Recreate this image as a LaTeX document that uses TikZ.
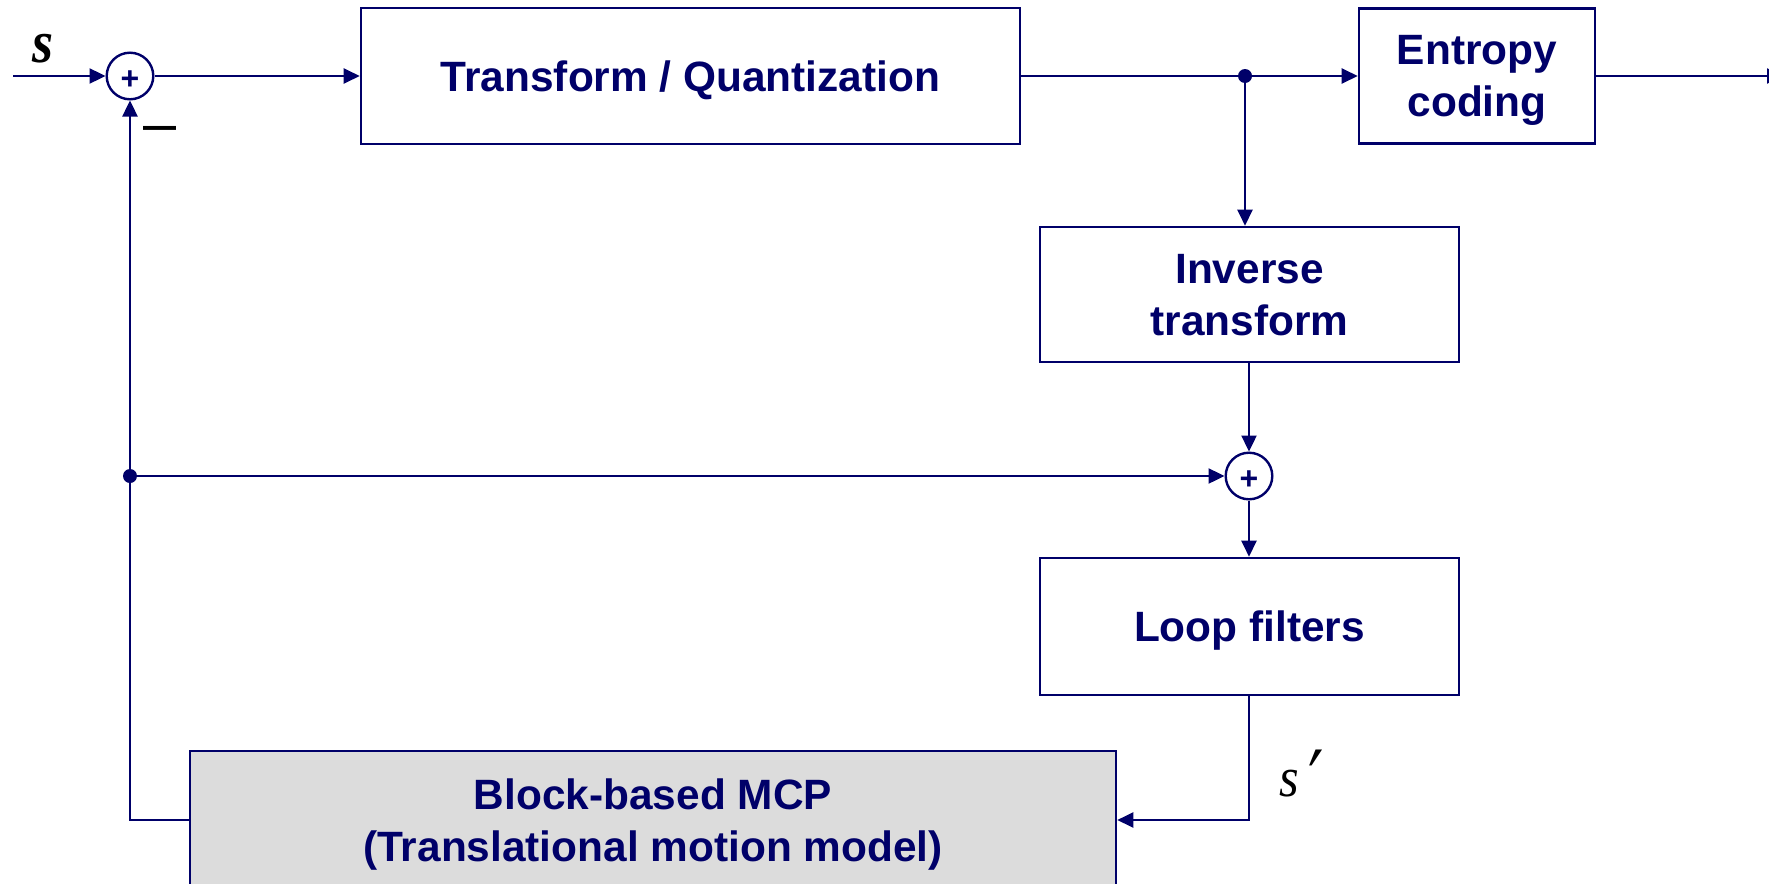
\documentclass[tikz,border=0pt]{standalone}
\usepackage{fontspec}
\setmainfont{Liberation Sans}
\newfontfamily\serifit{Liberation Serif}
\newfontfamily\primefont[FakeSlant=0.3]{Liberation Serif}
\usetikzlibrary{arrows.meta}
\definecolor{navy}{RGB}{0,0,105}
\definecolor{mcpgray}{RGB}{220,220,220}
\tikzset{
  blk/.style={draw=navy, line width=1.3pt, text=navy, inner sep=0pt, align=center,
    text depth=-2.2pt, font=\fontsize{21.2}{26}\selectfont\bfseries},
  sumnode/.style={circle, draw=navy, line width=1.2pt, minimum size=23.3pt, inner sep=0pt},
  plussign/.style={text=navy, inner sep=0pt, font=\fontsize{16}{18}\selectfont\bfseries},
  conn/.style={draw=navy, line width=1.2pt, -{Triangle[length=8pt,width=7.5pt]}},
  wire/.style={draw=navy, line width=1.2pt},
  dotnode/.style={circle, fill=navy, minimum size=7pt, inner sep=0pt},
  sig/.style={text=black, inner sep=0pt},
}
\begin{document}
\begin{tikzpicture}[x=0.5pt,y=-0.5pt]
\useasboundingbox (0,0) rectangle (1769,884);
\clip (0,0) rectangle (1769,884);
% blocks
\node[blk, minimum width=329.5pt, minimum height=68pt] (tq) at (690.5,76) {Transform / Quantization};
\node[blk, minimum width=118pt, minimum height=67.5pt] (ec) at (1477,76) {Entropy\\coding};
\node[blk, minimum width=209.5pt, minimum height=67.5pt] (it) at (1249.5,294.5) {Inverse\\transform};
\node[blk, minimum width=209.5pt, minimum height=68.5pt] (lf) at (1249.5,626.5) {Loop filters};
\node[blk, fill=mcpgray, minimum width=463pt, minimum height=69pt] (mcp) at (653,820) {Block-based MCP\\(Translational motion model)};
% adders
\node[sumnode] (s1) at (130,76) {};
\node[plussign] at ([yshift=-2pt]s1.center) {+};
\node[sumnode] (s2) at (1249,476) {};
\node[plussign] at ([yshift=-2pt]s2.center) {+};
% junctions
\node[dotnode] (d1) at (1245,76) {};
\node[dotnode] (d2) at (130,476) {};
\coordinate (in) at (13,76);
\coordinate (out) at (1783,76);
\coordinate (c1) at (1249,820);
\coordinate (c2) at (130,820);
% connectors
\draw[conn] (in) -- (s1);
\draw[conn] (s1) -- (tq);
\draw[wire] (tq) -- (d1);
\draw[conn] (d1) -- (ec);
\draw[conn] (ec) -- (out);
\draw[conn] (d1) -- (d1 |- it.north);
\draw[conn] (it.south -| s2) -- (s2);
\draw[conn] (s2) -- (s2 |- lf.north);
\draw[conn] (lf.south -| c1) -- (c1) -- (mcp.east);
\draw[wire] (mcp.west) -- (c2) -- (d2);
\draw[conn] (d2) -- (s1);
\draw[conn] (d2) -- (s2);
% labels
\node[sig, font=\serifit\fontsize{30}{32}\selectfont\bfseries\itshape] (lbls) at (43,49) {\scalebox{0.9}[1]{s}};
\node[sig, font=\fontsize{29.7}{32}\selectfont] (lblminus) at (160,135) {–};
\node[sig, font=\serifit\fontsize{28}{30}\selectfont\itshape] (lblsp) at (1294,774) {\scalebox{0.9}[1]{s}\kern-3pt\raisebox{1pt}{\primefont\fontsize{34}{36}\selectfont ′}};
\end{tikzpicture}
\end{document}
